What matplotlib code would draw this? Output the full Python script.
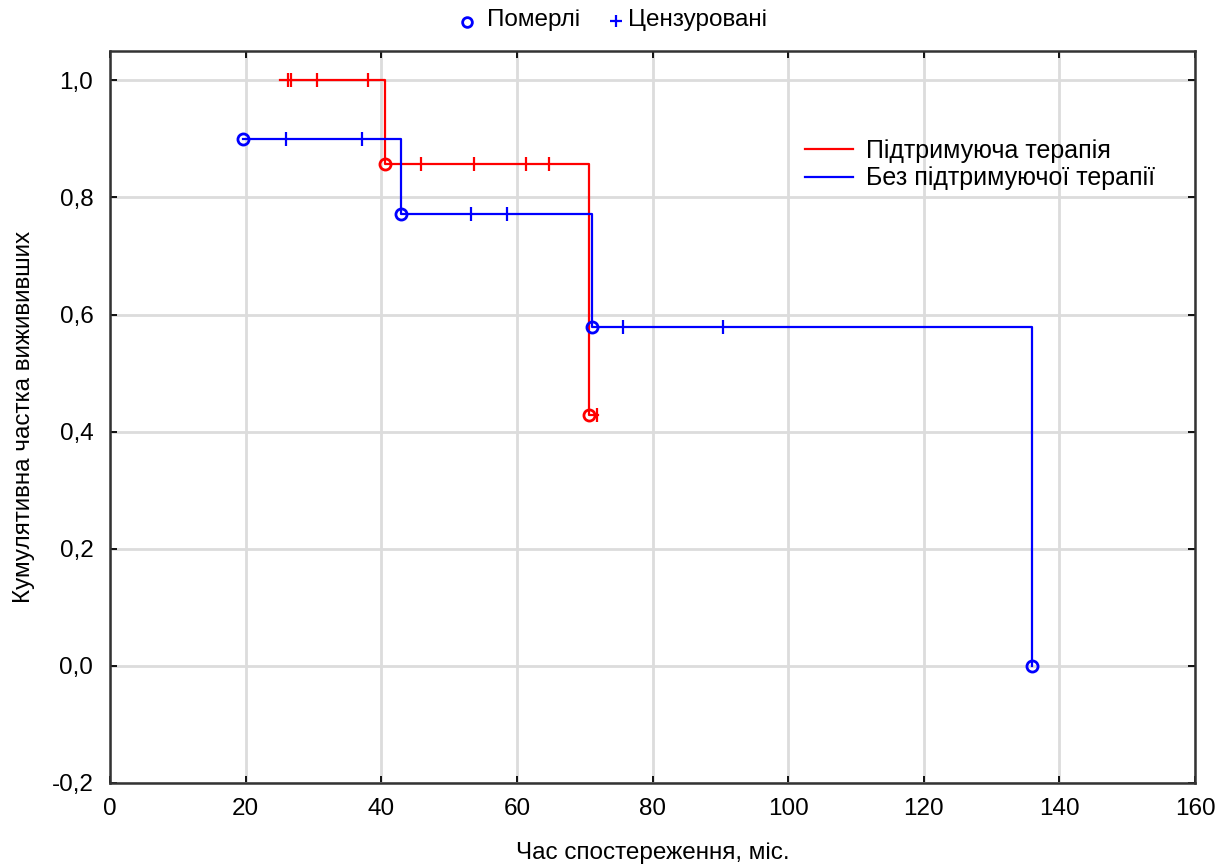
import matplotlib.pyplot as plt
from matplotlib.lines import Line2D
from matplotlib.ticker import FuncFormatter

plt.rcParams['font.family'] = ['Liberation Sans', 'DejaVu Sans']

# Підтримуюча терапія (червона)
red_steps_t = [25.1, 40.6, 70.7, 72.0]
red_steps_s = [1.0, 0.857, 0.429, 0.429]
red_dead_t = [40.6, 70.7]
red_dead_s = [0.857, 0.429]
red_cens_t = [26.2, 26.7, 30.5, 38.0, 45.8, 53.7, 61.4, 64.7, 71.8]
red_cens_s = [1.0, 1.0, 1.0, 1.0, 0.857, 0.857, 0.857, 0.857, 0.429]

# Без підтримуючої терапії (синя)
blue_steps_t = [19.6, 42.9, 71.1, 136.0]
blue_steps_s = [0.9, 0.771, 0.579, 0.0]
blue_dead_t = [19.6, 42.9, 71.1, 136.0]
blue_dead_s = [0.9, 0.771, 0.579, 0.0]
blue_cens_t = [26.0, 37.1, 53.3, 58.6, 75.6, 90.4]
blue_cens_s = [0.9, 0.9, 0.771, 0.771, 0.579, 0.579]

W, H = 1230, 868
fig = plt.figure(figsize=(W / 100, H / 100), dpi=100)
ax = fig.add_axes([110 / W, 1 - 783 / H, 1085 / W, 732 / H])

ax.step(red_steps_t, red_steps_s, where='post', color='red', lw=1.6,
        label='Підтримуюча терапія', zorder=3)
bt = blue_steps_t + [blue_steps_t[-1]]
bs = blue_steps_s + [blue_steps_s[-1]]
ax.step(bt, bs, where='post', color='blue', lw=1.6,
        label='Без підтримуючої терапії', zorder=3)

ax.plot(red_dead_t, red_dead_s, 'o', mfc='none', mec='red', ms=8, mew=2, zorder=4)
ax.plot(red_cens_t, red_cens_s, '|', color='red', ms=10, mew=1.6, zorder=4)
ax.plot(blue_dead_t, blue_dead_s, 'o', mfc='none', mec='blue', ms=8, mew=2, zorder=4)
ax.plot(blue_cens_t, blue_cens_s, '|', color='blue', ms=10, mew=1.6, zorder=4)

ax.set_xlim(0, 160)
ax.set_ylim(-0.2, 1.05)
ax.set_xticks(range(0, 161, 20))
ax.set_yticks([-0.2, 0.0, 0.2, 0.4, 0.6, 0.8, 1.0])
ax.yaxis.set_major_formatter(FuncFormatter(lambda v, p: f'{v:.1f}'.replace('.', ',')))
ax.tick_params(direction='in', length=5, width=1.3, labelsize=17.5, top=True, right=True)
ax.tick_params(axis='x', pad=11)
ax.tick_params(axis='y', pad=12)
ax.grid(True, color='#dcdcdc', lw=2, zorder=0)
for s in ax.spines.values():
    s.set_linewidth(1.8)
    s.set_color('#333333')

ax.set_xlabel('Час спостереження, міс.', fontsize=17.5, labelpad=16)
ax.set_ylabel('Кумулятивна частка вижививших', fontsize=17.5, labelpad=12)

ax.legend(loc='upper left', bbox_to_anchor=(0.620, 0.911), frameon=False, fontsize=18,
          handlelength=1.9, handletextpad=0.55, labelspacing=0.15)

# верхня легенда
fig.add_artist(Line2D([467 / W], [1 - 22 / H], marker='o', mfc='none', mec='blue',
                      ms=7, mew=2, ls='none'))
fig.text(487 / W, 1 - 20 / H, 'Померлі', fontsize=17.5, ha='left', va='center')
fig.add_artist(Line2D([616 / W], [1 - 21 / H], marker='+', color='blue',
                      ms=9, mew=1.6, ls='none'))
fig.text(628 / W, 1 - 20 / H, 'Цензуровані', fontsize=17.5, ha='left', va='center')

fig.savefig('out.png', dpi=100)
